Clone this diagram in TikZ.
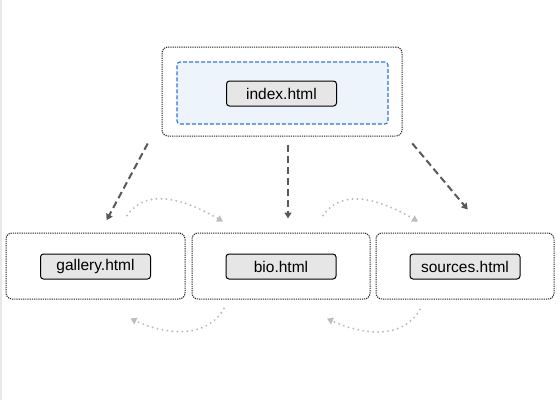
\documentclass[tikz,border=0pt]{standalone}
\usepackage{fontspec}
\setmainfont{Liberation Sans}
\usetikzlibrary{arrows.meta}
\definecolor{pagebar}{HTML}{E8E8E8}
\definecolor{framedot}{HTML}{222222}
\definecolor{navblue}{HTML}{2F74E0}
\definecolor{navfill}{HTML}{EEF4FC}
\definecolor{btnfill}{HTML}{E6E6E6}
\definecolor{linkdark}{HTML}{595959}
\definecolor{linklight}{HTML}{BDBDBD}
\begin{document}
\begin{tikzpicture}[x=1pt,y=-1pt,
    frame/.style={draw=framedot,line width=1pt,dash pattern=on 1.2pt off 1pt,rounded corners=6pt,inner sep=0pt},
    button/.style={draw=black,line width=1pt,fill=btnfill,rounded corners=3pt,minimum width=110pt,minimum height=25pt,inner sep=0pt,font=\fontsize{15.5}{18}\selectfont},
    nav/.style={-{Triangle[width=7pt,length=6pt]},draw=linkdark,line width=2pt,dash pattern=on 7pt off 4pt},
    sib/.style={-{Triangle[width=7pt,length=6pt]},draw=linklight,line width=2.2pt,line cap=round,dash pattern=on 0pt off 5pt}]
    \useasboundingbox (0,0) rectangle (560,400);
    \fill[pagebar] (0,0) rectangle (2,400);
    % top page
    \node[frame,minimum width=240pt,minimum height=89pt](top) at (282,91.5){};
    \node[draw=navblue,fill=navfill,line width=1.1pt,dash pattern=on 4pt off 2pt,rounded corners=3pt,minimum width=211pt,minimum height=62pt](navbox) at (282.5,93){};
    \node[button](index) at (281.5,93.5){index.html};
    % child pages
    \node[frame,minimum width=179pt,minimum height=66pt](gallerybox) at (95.5,266){};
    \node[frame,minimum width=178pt,minimum height=66pt](biobox) at (281,266){};
    \node[frame,minimum width=178pt,minimum height=66pt](sourcesbox) at (465,266){};
    \node[button](gallery) at (95.5,266.5){gallery.html};
    \node[button](bio) at (281,266.5){bio.html};
    \node[button](sources) at (465,266.5){sources.html};
    % links down
    \draw[nav,shorten <=8pt,shorten >=14pt]([xshift=-10pt]top.south west)--([xshift=4.5pt]gallerybox.north);
    \draw[nav,shorten <=8pt,shorten >=14pt]([xshift=6pt]top.south)--([xshift=7pt]biobox.north);
    \draw[nav,shorten <=9pt,shorten >=30pt]([xshift=4pt]top.south east)--([xshift=22pt]sourcesbox.north);
    % links between siblings
    \draw[sib]([xshift=31.5pt,yshift=17pt]gallerybox.north) to[out=55,in=150] ([xshift=-58pt,yshift=11pt]biobox.north);
    \draw[sib]([xshift=42pt,yshift=17pt]biobox.north) to[out=55,in=150] ([xshift=-47pt,yshift=11pt]sourcesbox.north);
    \draw[sib]([xshift=-57pt,yshift=-9pt]biobox.south) to[out=-120,in=-25] ([xshift=35pt,yshift=-19pt]gallerybox.south);
    \draw[sib]([xshift=-45pt,yshift=-10pt]sourcesbox.south) to[out=-120,in=-25] ([xshift=46pt,yshift=-19pt]biobox.south);
\end{tikzpicture}
\end{document}
